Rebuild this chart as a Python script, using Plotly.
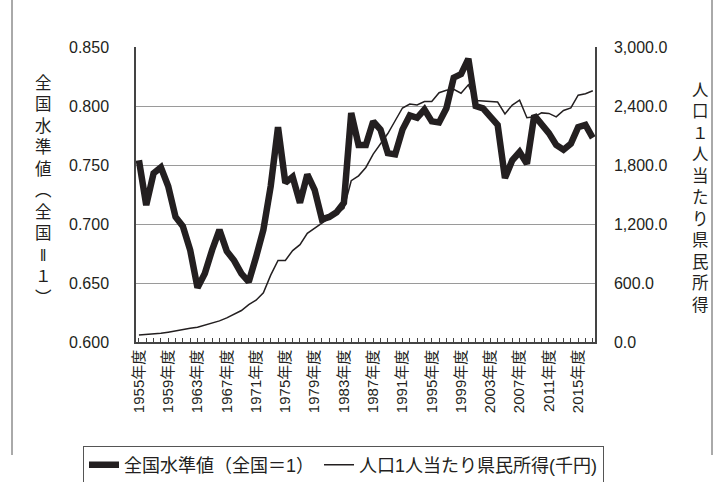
import plotly.graph_objects as go

# 年度
years = list(range(1955, 2018))

# 全国水準値（全国＝1）
level = [0.754, 0.716, 0.743, 0.748, 0.732, 0.706, 0.698, 0.678, 0.646, 0.658,
         0.678, 0.695, 0.677, 0.669, 0.658, 0.651, 0.672, 0.695, 0.732, 0.782,
         0.735, 0.740, 0.718, 0.742, 0.729, 0.704, 0.706, 0.710, 0.718, 0.794,
         0.767, 0.767, 0.787, 0.780, 0.760, 0.759, 0.780, 0.792, 0.790, 0.797,
         0.787, 0.786, 0.798, 0.824, 0.827, 0.840, 0.800, 0.798, 0.791, 0.784,
         0.739, 0.754, 0.761, 0.751, 0.792, 0.785, 0.777, 0.767, 0.763, 0.768,
         0.782, 0.784, 0.773]

# 人口1人当たり県民所得（千円）
income = [70, 75, 80, 88, 100, 115, 128, 140, 150, 170,
          188, 215, 245, 280, 320, 380, 425, 500, 680, 830,
          830, 930, 990, 1105, 1160, 1210, 1260, 1300, 1360, 1640,
          1690, 1775, 1910, 2020, 2120, 2250, 2380, 2420, 2410, 2445,
          2445, 2535, 2560, 2570, 2530, 2615, 2455, 2450, 2445, 2440,
          2320, 2410, 2460, 2280, 2290, 2330, 2325, 2290, 2355, 2380,
          2510, 2525, 2555]

label_years = list(range(1955, 2016, 4))
label_text = [f"{y}年度" for y in label_years]

name_level = "全国水準値（全国＝1）"
name_income = "人口1人当たり県民所得(千円)"

left_title = ["全", "国", "水", "準", "値", "︵", "全", "国", "‖", "１", "︶"]
right_title = ["人", "口", "１", "人", "当", "た", "り", "県", "民", "所", "得"]

ink = "#231f20"
frame = "#555555"
font_family = "Liberation Sans, Arial, Noto Sans CJK JP, sans-serif"

fig = go.Figure()
fig.add_trace(go.Scatter(x=years, y=level, name=name_level, mode="lines",
                         line=dict(color=ink, width=6.5)))
fig.add_trace(go.Scatter(x=years, y=income, name=name_income, mode="lines",
                         line=dict(color=ink, width=1.5), yaxis="y2"))

fig.update_layout(
    width=723, height=482,
    margin=dict(l=136, r=128, t=47, b=140, autoexpand=False),
    paper_bgcolor="white", plot_bgcolor="white",
    font=dict(family=font_family, size=15, color=ink),
    showlegend=True,
    legend=dict(orientation="h", xref="paper", yref="paper",
                x=(83 - 136) / 459, xanchor="left", y=(342 - 465) / 295,
                yanchor="middle", bordercolor=frame, borderwidth=1,
                font=dict(size=18), tracegroupgap=0, itemwidth=30),
    xaxis=dict(range=[1954.6, 2017.3], tickmode="array", tickvals=label_years,
               ticktext=label_text, tickangle=-90, ticks="inside", ticklen=4,
               tickcolor="#444444", showgrid=False, showline=True,
               linecolor="#444444", linewidth=1.5, zeroline=False, automargin=False,
               minor=dict(ticks="inside", dtick=1, tick0=1955, ticklen=4,
                          tickcolor="#444444", showgrid=False),
               tickfont=dict(size=15)),
    yaxis=dict(range=[0.6, 0.85], dtick=0.05, tickformat=".3f", showgrid=True,
               gridcolor="#9a9a9a", gridwidth=1, showline=True, linecolor="#444444",
               linewidth=1.5, zeroline=False, ticks="", ticklabelstandoff=22,
               automargin=False, tickfont=dict(size=16)),
    yaxis2=dict(range=[0, 3000], dtick=600, tickformat=",.1f", overlaying="y",
                side="right", showgrid=False, showline=True, linecolor="#444444",
                linewidth=1.5, zeroline=False, ticks="", ticklabelstandoff=14,
                automargin=False, tickfont=dict(size=16)),
)

# 縦書きの軸タイトル
fig.add_annotation(text="<br>".join(left_title), xref="paper", yref="paper",
                   x=(43 - 136) / 459, y=(342 - 190) / 295, xanchor="center",
                   yanchor="middle", showarrow=False, font=dict(size=16.5),
                   align="center")
fig.add_annotation(text="<br>".join(right_title), xref="paper", yref="paper",
                   x=(700 - 136) / 459, y=(342 - 197) / 295, xanchor="center",
                   yanchor="middle", showarrow=False, font=dict(size=16.5),
                   align="center")

# 外枠（左右の縦線）
for px in (12, 712):
    fig.add_shape(type="line", xref="paper", yref="paper",
                  x0=(px - 136) / 459, x1=(px - 136) / 459,
                  y0=(342 - 0) / 295, y1=(342 - 455) / 295,
                  line=dict(color=frame, width=1))

fig.write_html("out.html")
